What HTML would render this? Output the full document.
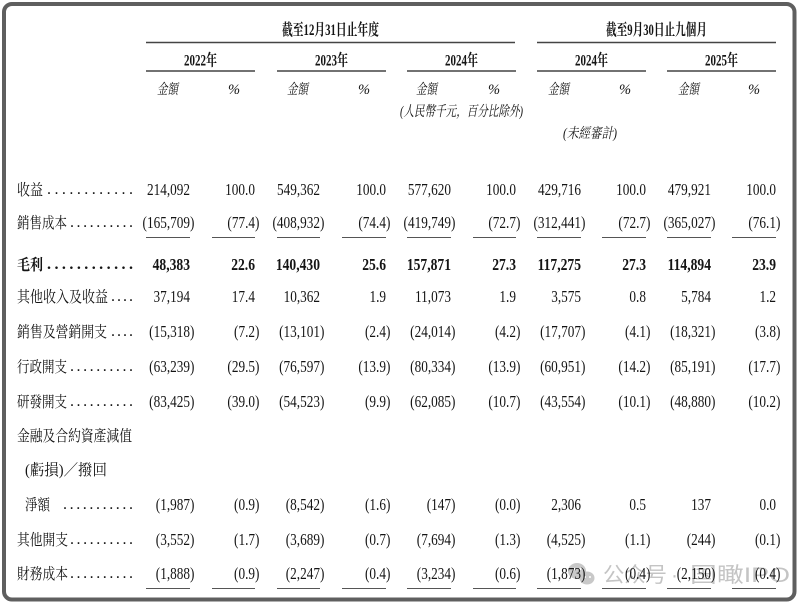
<!DOCTYPE html>
<html>
<head>
<meta charset="utf-8">
<style>
html,body{margin:0;padding:0;background:#fff;}
svg{display:block;}
text{font-family:"Liberation Serif","Noto Serif CJK SC",serif;fill:#141414;}
.cj{font-size:15.5px;}
.dot{font-size:16px;}
.num{font-size:17px;text-anchor:end;}
.b{font-weight:bold;}
.it{font-style:italic;font-size:14.5px;}
.hd{font-weight:bold;font-size:16px;text-anchor:middle;}
.wm{font-family:"Liberation Sans","Noto Sans CJK SC",sans-serif;fill:#c4c4c4;font-size:21px;}
</style>
</head>
<body>
<svg width="800" height="605" viewBox="0 0 800 605" xmlns="http://www.w3.org/2000/svg">
<rect x="0" y="0" width="800" height="605" fill="#fff"/>
<rect x="4" y="4" width="790.5" height="595.5" rx="8" ry="8" fill="none" stroke="#5f5f5f" stroke-width="4"/>

<!-- header -->
<text class="hd" x="330.5" y="35" textLength="97" lengthAdjust="spacingAndGlyphs">截至12月31日止年度</text>
<text class="hd" x="656.5" y="35" textLength="101" lengthAdjust="spacingAndGlyphs">截至9月30日止九個月</text>
<g stroke="#444" stroke-width="1.4">
<line x1="146" y1="42.5" x2="515" y2="42.5"/>
<line x1="537" y1="42.5" x2="776" y2="42.5"/>
<line x1="146" y1="71" x2="255" y2="71"/>
<line x1="277" y1="71" x2="386" y2="71"/>
<line x1="407" y1="71" x2="516" y2="71"/>
<line x1="537" y1="71" x2="646" y2="71"/>
<line x1="667" y1="71" x2="776" y2="71"/>
</g>
<text class="hd" x="200.5" y="65.5" textLength="33" lengthAdjust="spacingAndGlyphs">2022年</text>
<text class="hd" x="331.5" y="65.5" textLength="33" lengthAdjust="spacingAndGlyphs">2023年</text>
<text class="hd" x="461.5" y="65.5" textLength="33" lengthAdjust="spacingAndGlyphs">2024年</text>
<text class="hd" x="591.5" y="65.5" textLength="33" lengthAdjust="spacingAndGlyphs">2024年</text>
<text class="hd" x="721.5" y="65.5" textLength="33" lengthAdjust="spacingAndGlyphs">2025年</text>

<text class="it" x="157" y="94" textLength="21" lengthAdjust="spacingAndGlyphs">金額</text>
<text class="it" x="287" y="94" textLength="21" lengthAdjust="spacingAndGlyphs">金額</text>
<text class="it" x="416" y="94" textLength="21" lengthAdjust="spacingAndGlyphs">金額</text>
<text class="it" x="548" y="94" textLength="21" lengthAdjust="spacingAndGlyphs">金額</text>
<text class="it" x="678" y="94" textLength="21" lengthAdjust="spacingAndGlyphs">金額</text>
<text class="it" x="228" y="94">%</text>
<text class="it" x="358" y="94">%</text>
<text class="it" x="488" y="94">%</text>
<text class="it" x="619" y="94">%</text>
<text class="it" x="748" y="94">%</text>
<text class="it" x="400" y="116" textLength="123" lengthAdjust="spacingAndGlyphs">(人民幣千元，百分比除外)</text>
<text class="it" x="563" y="138" textLength="54" lengthAdjust="spacingAndGlyphs">(未經審計)</text>

<!-- watermark -->
<g fill="#c8c8c8">
<ellipse cx="577" cy="571" rx="9" ry="8"/>
<ellipse cx="587" cy="578" rx="7.5" ry="6.5"/>
</g>
<g fill="#fff">
<circle cx="574" cy="569" r="1.3"/><circle cx="580" cy="569" r="1.3"/>
<circle cx="585" cy="577" r="1"/><circle cx="590" cy="577" r="1"/>
</g>
<text class="wm" x="603" y="582" textLength="64" lengthAdjust="spacingAndGlyphs">公众号</text>
<text class="wm" x="671" y="582">·</text>
<text class="wm" x="690" y="582" textLength="100" lengthAdjust="spacingAndGlyphs">国瞰IPO</text>

<!-- labels -->
<text class="cj" x="17" y="195" textLength="26" lengthAdjust="spacingAndGlyphs">收益</text>
<text class="dot" x="47" y="194" textLength="86">............</text>
<text class="cj" x="17" y="228" textLength="50" lengthAdjust="spacingAndGlyphs">銷售成本</text>
<text class="dot" x="70" y="227" textLength="63">..........</text>
<text class="cj b" x="17" y="270" textLength="26" lengthAdjust="spacingAndGlyphs">毛利</text>
<text class="dot b" x="47" y="269" textLength="86">............</text>
<text class="cj" x="17" y="302" textLength="91" lengthAdjust="spacingAndGlyphs">其他收入及收益</text>
<text class="dot" x="111" y="301" textLength="22">....</text>
<text class="cj" x="17" y="337" textLength="90" lengthAdjust="spacingAndGlyphs">銷售及營銷開支</text>
<text class="dot" x="111" y="336" textLength="22">....</text>
<text class="cj" x="17" y="372" textLength="50" lengthAdjust="spacingAndGlyphs">行政開支</text>
<text class="dot" x="70" y="371" textLength="63">..........</text>
<text class="cj" x="17" y="407" textLength="50" lengthAdjust="spacingAndGlyphs">研發開支</text>
<text class="dot" x="70" y="406" textLength="63">..........</text>
<text class="cj" x="17" y="441" textLength="115" lengthAdjust="spacingAndGlyphs">金融及合約資產減值</text>
<text class="cj" x="25" y="475" textLength="82" lengthAdjust="spacingAndGlyphs">(虧損)／撥回</text>
<text class="cj" x="25" y="510" textLength="25" lengthAdjust="spacingAndGlyphs">淨額</text>
<text class="dot" x="63" y="509" textLength="70">...........</text>
<text class="cj" x="17" y="545" textLength="51" lengthAdjust="spacingAndGlyphs">其他開支</text>
<text class="dot" x="70" y="544" textLength="63">..........</text>
<text class="cj" x="17" y="579" textLength="51" lengthAdjust="spacingAndGlyphs">財務成本</text>
<text class="dot" x="70" y="578" textLength="63">..........</text>

<!-- underlines -->
<g stroke="#555" stroke-width="1.1">
<line x1="146" y1="237.5" x2="190" y2="237.5"/><line x1="212" y1="237.5" x2="255" y2="237.5"/>
<line x1="277" y1="237.5" x2="320" y2="237.5"/><line x1="342" y1="237.5" x2="386" y2="237.5"/>
<line x1="407" y1="237.5" x2="451" y2="237.5"/><line x1="473" y1="237.5" x2="516" y2="237.5"/>
<line x1="537" y1="237.5" x2="581" y2="237.5"/><line x1="602" y1="237.5" x2="646" y2="237.5"/>
<line x1="667" y1="237.5" x2="711" y2="237.5"/><line x1="732" y1="237.5" x2="776" y2="237.5"/>
<line x1="146" y1="588.5" x2="190" y2="588.5"/><line x1="212" y1="588.5" x2="255" y2="588.5"/>
<line x1="277" y1="588.5" x2="320" y2="588.5"/><line x1="342" y1="588.5" x2="386" y2="588.5"/>
<line x1="407" y1="588.5" x2="451" y2="588.5"/><line x1="473" y1="588.5" x2="516" y2="588.5"/>
<line x1="537" y1="588.5" x2="581" y2="588.5"/><line x1="602" y1="588.5" x2="646" y2="588.5"/>
<line x1="667" y1="588.5" x2="711" y2="588.5"/><line x1="732" y1="588.5" x2="776" y2="588.5"/>
</g>

<!-- numbers (regular) -->
<g transform="scale(0.78,1)">
<text class="num" x="243.6" y="195">214,092</text>
<text class="num" x="326.9" y="195">100.0</text>
<text class="num" x="410.3" y="195">549,362</text>
<text class="num" x="494.9" y="195">100.0</text>
<text class="num" x="578.2" y="195">577,620</text>
<text class="num" x="661.5" y="195">100.0</text>
<text class="num" x="744.9" y="195">429,716</text>
<text class="num" x="828.2" y="195">100.0</text>
<text class="num" x="911.5" y="195">479,921</text>
<text class="num" x="994.9" y="195">100.0</text>

<text class="num" x="249.3" y="228">(165,709)</text>
<text class="num" x="332.6" y="228">(77.4)</text>
<text class="num" x="415.9" y="228">(408,932)</text>
<text class="num" x="500.5" y="228">(74.4)</text>
<text class="num" x="583.9" y="228">(419,749)</text>
<text class="num" x="667.2" y="228">(72.7)</text>
<text class="num" x="750.5" y="228">(312,441)</text>
<text class="num" x="833.9" y="228">(72.7)</text>
<text class="num" x="917.2" y="228">(365,027)</text>
<text class="num" x="1000.5" y="228">(76.1)</text>

<text class="num" x="243.6" y="302">37,194</text>
<text class="num" x="326.9" y="302">17.4</text>
<text class="num" x="410.3" y="302">10,362</text>
<text class="num" x="494.9" y="302">1.9</text>
<text class="num" x="578.2" y="302">11,073</text>
<text class="num" x="661.5" y="302">1.9</text>
<text class="num" x="744.9" y="302">3,575</text>
<text class="num" x="828.2" y="302">0.8</text>
<text class="num" x="911.5" y="302">5,784</text>
<text class="num" x="994.9" y="302">1.2</text>

<text class="num" x="249.3" y="337">(15,318)</text>
<text class="num" x="332.6" y="337">(7.2)</text>
<text class="num" x="415.9" y="337">(13,101)</text>
<text class="num" x="500.5" y="337">(2.4)</text>
<text class="num" x="583.9" y="337">(24,014)</text>
<text class="num" x="667.2" y="337">(4.2)</text>
<text class="num" x="750.5" y="337">(17,707)</text>
<text class="num" x="833.9" y="337">(4.1)</text>
<text class="num" x="917.2" y="337">(18,321)</text>
<text class="num" x="1000.5" y="337">(3.8)</text>

<text class="num" x="249.3" y="372">(63,239)</text>
<text class="num" x="332.6" y="372">(29.5)</text>
<text class="num" x="415.9" y="372">(76,597)</text>
<text class="num" x="500.5" y="372">(13.9)</text>
<text class="num" x="583.9" y="372">(80,334)</text>
<text class="num" x="667.2" y="372">(13.9)</text>
<text class="num" x="750.5" y="372">(60,951)</text>
<text class="num" x="833.9" y="372">(14.2)</text>
<text class="num" x="917.2" y="372">(85,191)</text>
<text class="num" x="1000.5" y="372">(17.7)</text>

<text class="num" x="249.3" y="407">(83,425)</text>
<text class="num" x="332.6" y="407">(39.0)</text>
<text class="num" x="415.9" y="407">(54,523)</text>
<text class="num" x="500.5" y="407">(9.9)</text>
<text class="num" x="583.9" y="407">(62,085)</text>
<text class="num" x="667.2" y="407">(10.7)</text>
<text class="num" x="750.5" y="407">(43,554)</text>
<text class="num" x="833.9" y="407">(10.1)</text>
<text class="num" x="917.2" y="407">(48,880)</text>
<text class="num" x="1000.5" y="407">(10.2)</text>

<text class="num" x="249.3" y="510">(1,987)</text>
<text class="num" x="332.6" y="510">(0.9)</text>
<text class="num" x="415.9" y="510">(8,542)</text>
<text class="num" x="500.5" y="510">(1.6)</text>
<text class="num" x="583.9" y="510">(147)</text>
<text class="num" x="667.2" y="510">(0.0)</text>
<text class="num" x="744.9" y="510">2,306</text>
<text class="num" x="828.2" y="510">0.5</text>
<text class="num" x="911.5" y="510">137</text>
<text class="num" x="994.9" y="510">0.0</text>

<text class="num" x="249.3" y="545">(3,552)</text>
<text class="num" x="332.6" y="545">(1.7)</text>
<text class="num" x="415.9" y="545">(3,689)</text>
<text class="num" x="500.5" y="545">(0.7)</text>
<text class="num" x="583.9" y="545">(7,694)</text>
<text class="num" x="667.2" y="545">(1.3)</text>
<text class="num" x="750.5" y="545">(4,525)</text>
<text class="num" x="833.9" y="545">(1.1)</text>
<text class="num" x="917.2" y="545">(244)</text>
<text class="num" x="1000.5" y="545">(0.1)</text>

<text class="num" x="249.3" y="579">(1,888)</text>
<text class="num" x="332.6" y="579">(0.9)</text>
<text class="num" x="415.9" y="579">(2,247)</text>
<text class="num" x="500.5" y="579">(0.4)</text>
<text class="num" x="583.9" y="579">(3,234)</text>
<text class="num" x="667.2" y="579">(0.6)</text>
<text class="num" x="750.5" y="579">(1,873)</text>
<text class="num" x="833.9" y="579">(0.4)</text>
<text class="num" x="917.2" y="579">(2,150)</text>
<text class="num" x="1000.5" y="579">(0.4)</text>
</g>

<!-- bold row 毛利 -->
<g transform="scale(0.8,1)">
<text class="num b" x="237.5" y="270">48,383</text>
<text class="num b" x="318.75" y="270">22.6</text>
<text class="num b" x="400" y="270">140,430</text>
<text class="num b" x="482.5" y="270">25.6</text>
<text class="num b" x="563.75" y="270">157,871</text>
<text class="num b" x="645" y="270">27.3</text>
<text class="num b" x="726.25" y="270">117,275</text>
<text class="num b" x="807.5" y="270">27.3</text>
<text class="num b" x="888.75" y="270">114,894</text>
<text class="num b" x="970" y="270">23.9</text>
</g>
</svg>
</body>
</html>
